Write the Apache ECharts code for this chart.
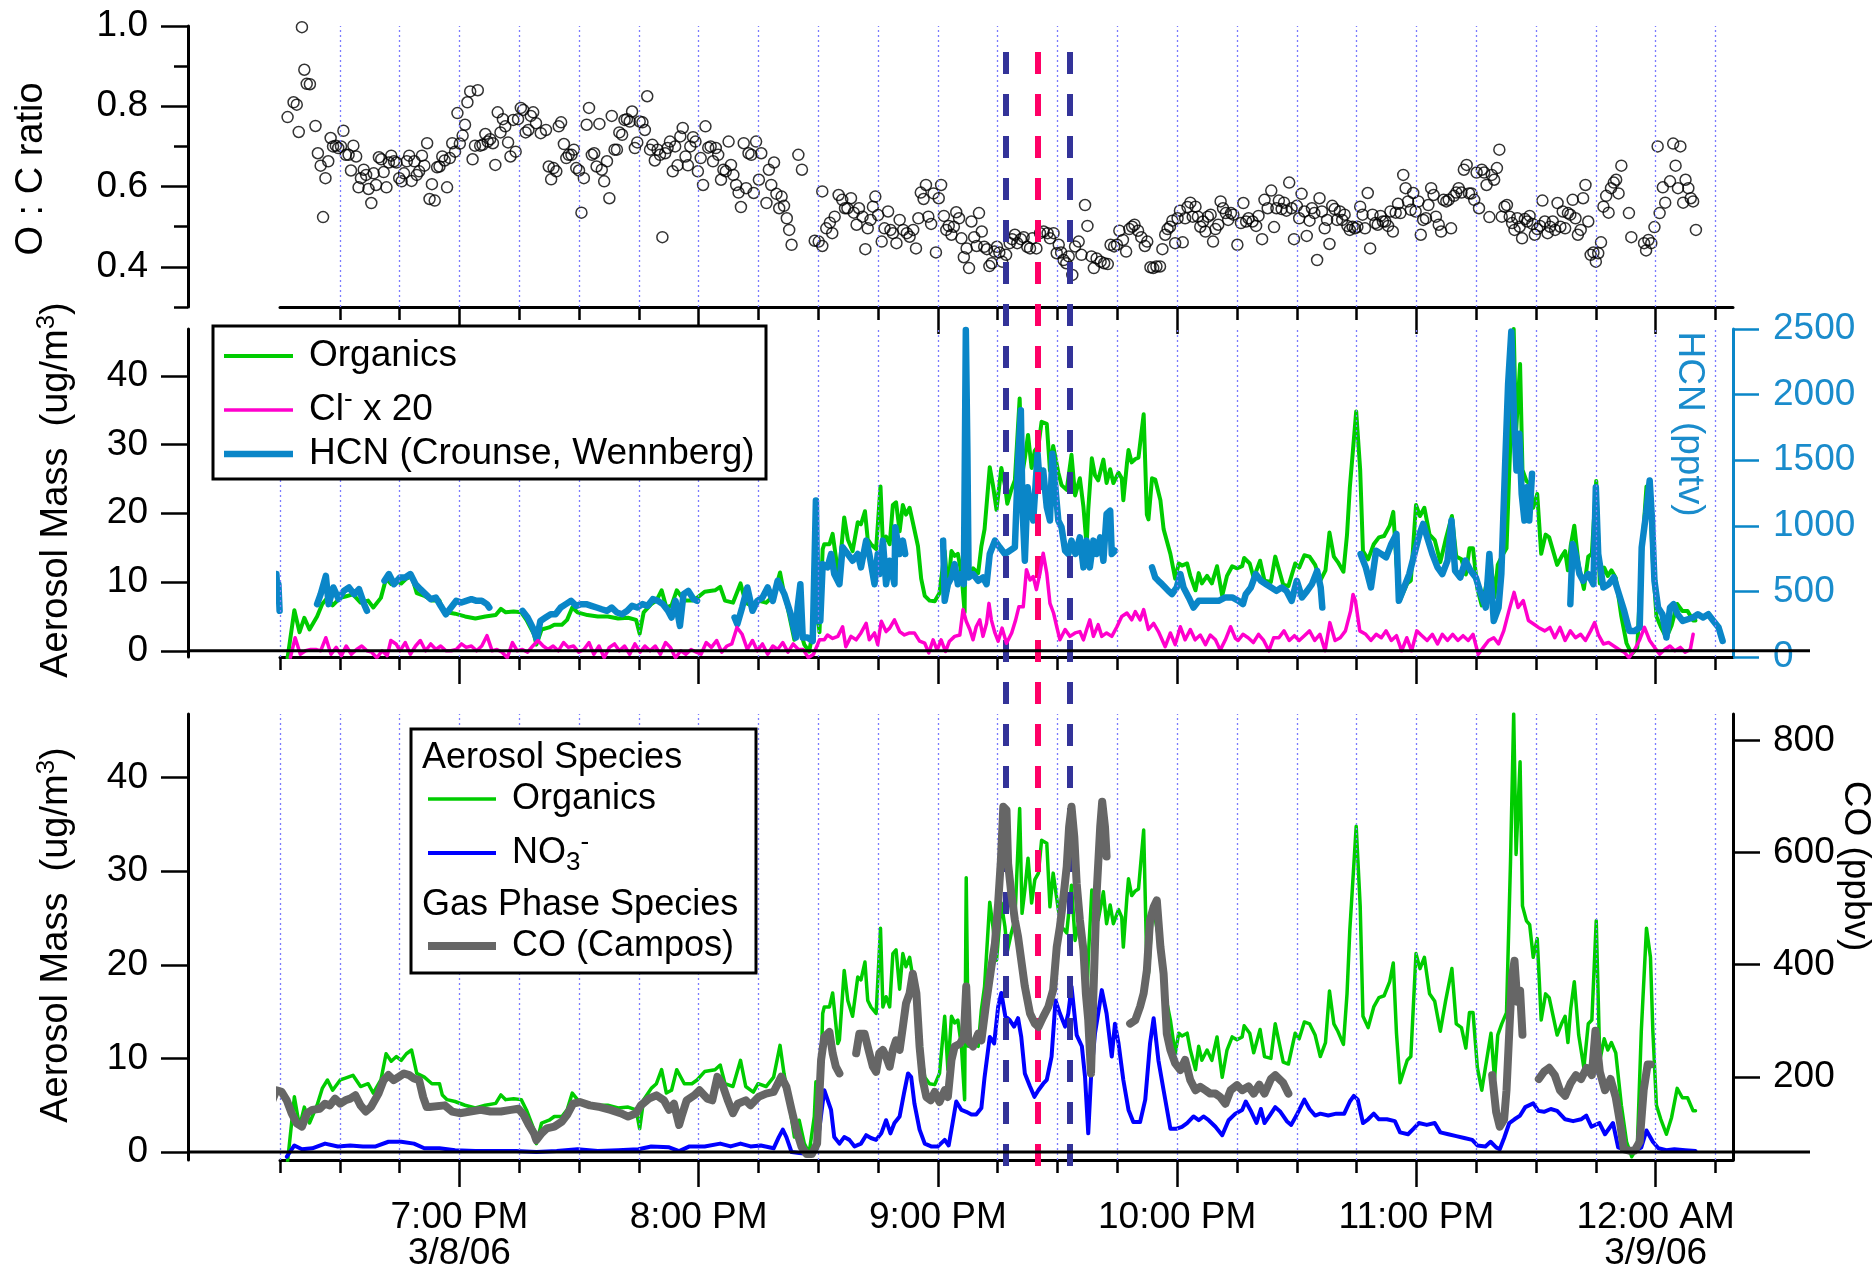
<!DOCTYPE html>
<html>
<head>
<meta charset="utf-8">
<title>O:C ratio, aerosol mass, HCN and CO - 3/8/06</title>
<script src="https://cdn.jsdelivr.net/npm/echarts@6/dist/echarts.min.js"></script>
<style>
html, body { margin: 0; padding: 0; background: #fff; }
#chart { width: 1876px; height: 1277px; }
</style>
</head>
<body>
<div id="chart"></div>
<script>
// x values are minutes after 6:00 PM on 3/8/06
const quarterTicks = [15, 30, 45, 60, 75, 90, 105, 120, 135, 150, 165, 180, 195, 210, 225, 240, 255, 270, 285, 300, 315, 330, 345, 360, 375];
const hourTicks = [60, 120, 180, 240, 300, 360];
const hourLabels = ['7:00 PM\n3/8/06', '8:00 PM', '9:00 PM', '10:00 PM', '11:00 PM', '12:00 AM\n3/9/06'];
const markerTimes = [197, 205, 213];
const ocMajorTicks = [0.4, 0.6, 0.8, 1.0];
const ocMinorTicks = [0.3, 0.5, 0.7, 0.9];
const massTicks = [0, 10, 20, 30, 40];
const hcnTicks = [0, 500, 1000, 1500, 2000, 2500];
const coTicks = [200, 400, 600, 800];

const ocRatio = [[16.9,0.773],[18.4,0.810],[19.2,0.804],[19.7,0.736],[20.5,0.997],[21.1,0.891],[21.7,0.856],[22.5,0.855],[23.9,0.751],[24.5,0.683],[25.2,0.652],[25.8,0.524],[26.4,0.621],[27.1,0.663],[27.7,0.721],[28.3,0.700],[29.0,0.702],[29.6,0.696],[30.3,0.700],[30.9,0.739],[31.5,0.679],[32.2,0.679],[32.8,0.640],[33.4,0.702],[34.1,0.675],[34.7,0.598],[35.3,0.621],[36.0,0.642],[36.6,0.629],[37.2,0.594],[37.9,0.559],[38.5,0.633],[39.1,0.604],[39.8,0.673],[40.4,0.668],[41.0,0.636],[41.7,0.598],[42.3,0.660],[42.9,0.677],[43.6,0.663],[44.2,0.660],[44.9,0.621],[45.5,0.613],[46.1,0.633],[46.8,0.663],[47.4,0.677],[48.0,0.614],[48.7,0.663],[49.3,0.629],[49.9,0.638],[50.6,0.677],[51.2,0.652],[51.9,0.708],[52.5,0.569],[53.1,0.606],[53.8,0.565],[54.4,0.648],[55.0,0.650],[55.7,0.675],[56.3,0.665],[56.9,0.598],[57.6,0.671],[58.2,0.708],[58.9,0.687],[59.5,0.783],[60.1,0.707],[60.8,0.727],[61.4,0.754],[62.0,0.810],[62.7,0.837],[63.3,0.668],[63.9,0.702],[64.6,0.840],[65.2,0.702],[65.8,0.704],[66.5,0.731],[67.1,0.712],[67.7,0.718],[68.4,0.708],[69.0,0.654],[69.6,0.785],[70.3,0.735],[70.9,0.768],[71.5,0.750],[72.2,0.710],[72.8,0.675],[73.5,0.766],[74.1,0.687],[74.7,0.768],[75.4,0.796],[76.0,0.791],[76.6,0.735],[77.3,0.741],[77.9,0.776],[78.5,0.785],[79.2,0.758],[80.4,0.733],[81.7,0.741],[82.4,0.650],[83.0,0.618],[83.6,0.646],[84.3,0.638],[84.9,0.750],[85.5,0.760],[86.2,0.706],[86.8,0.671],[87.4,0.679],[88.1,0.679],[88.7,0.692],[89.3,0.646],[90.0,0.640],[90.6,0.535],[91.2,0.621],[91.9,0.754],[92.5,0.796],[93.2,0.679],[93.8,0.683],[94.4,0.650],[95.1,0.756],[95.7,0.642],[96.3,0.613],[97.0,0.663],[97.6,0.571],[98.2,0.776],[98.9,0.692],[99.5,0.692],[100.1,0.735],[100.8,0.729],[101.4,0.766],[102.0,0.768],[102.7,0.762],[103.3,0.787],[104.0,0.696],[104.6,0.710],[105.2,0.762],[105.9,0.760],[106.5,0.741],[107.1,0.825],[107.8,0.692],[108.4,0.704],[109.0,0.665],[109.7,0.692],[110.3,0.679],[110.9,0.474],[111.6,0.683],[112.2,0.696],[112.8,0.712],[113.5,0.638],[114.1,0.700],[114.7,0.653],[115.4,0.725],[116.0,0.746],[116.7,0.675],[117.3,0.653],[117.9,0.700],[118.6,0.723],[119.2,0.712],[119.8,0.638],[120.5,0.671],[121.1,0.604],[121.7,0.750],[122.4,0.697],[123.0,0.700],[123.6,0.663],[124.3,0.696],[124.9,0.679],[125.6,0.617],[126.2,0.642],[126.8,0.638],[127.5,0.712],[128.1,0.654],[128.7,0.629],[129.4,0.604],[130.0,0.585],[130.6,0.549],[131.3,0.708],[131.9,0.596],[132.5,0.683],[133.2,0.679],[133.8,0.584],[134.4,0.712],[135.1,0.617],[135.7,0.683],[137.0,0.559],[137.6,0.642],[138.2,0.604],[138.9,0.660],[139.5,0.582],[140.2,0.546],[140.8,0.575],[141.4,0.552],[142.1,0.521],[142.7,0.492],[143.3,0.455],[145.0,0.679],[145.9,0.642],[149.1,0.465],[150.1,0.463],[151.0,0.452],[151.0,0.588],[152.0,0.496],[152.9,0.510],[153.5,0.484],[154.1,0.525],[155.1,0.579],[156.0,0.567],[156.7,0.546],[157.3,0.546],[158.2,0.571],[158.9,0.535],[159.6,0.505],[160.2,0.546],[161.1,0.525],[161.8,0.444],[162.4,0.496],[163.1,0.517],[163.7,0.550],[164.3,0.575],[165.0,0.529],[165.9,0.463],[166.6,0.496],[167.5,0.538],[168.1,0.492],[168.7,0.484],[169.6,0.459],[170.4,0.517],[171.3,0.492],[172.2,0.484],[172.9,0.475],[173.8,0.492],[174.5,0.446],[175.1,0.521],[175.7,0.585],[176.4,0.569],[177.0,0.604],[177.6,0.525],[178.3,0.507],[178.9,0.583],[179.5,0.436],[180.2,0.571],[180.8,0.604],[181.5,0.527],[182.1,0.492],[182.7,0.502],[183.4,0.480],[184.0,0.500],[184.6,0.536],[185.3,0.521],[185.9,0.471],[186.5,0.424],[187.2,0.446],[187.8,0.397],[188.4,0.513],[189.1,0.474],[189.7,0.452],[190.3,0.534],[191.0,0.488],[191.6,0.450],[192.3,0.444],[192.9,0.402],[193.5,0.409],[194.2,0.438],[194.8,0.450],[195.4,0.436],[196.1,0.413],[197.1,0.430],[198.0,0.459],[198.6,0.469],[199.3,0.480],[199.9,0.459],[200.8,0.469],[201.5,0.474],[202.4,0.450],[203.1,0.446],[203.7,0.471],[204.7,0.446],[205.6,0.484],[206.5,0.488],[207.5,0.484],[208.1,0.471],[209.0,0.484],[209.8,0.434],
  [210.3,0.455],[210.9,0.436],[211.5,0.417],[212.2,0.409],[212.8,0.426],[213.7,0.380],[214.4,0.451],[215.3,0.463],[216.0,0.430],[216.9,0.554],[217.5,0.502],[218.5,0.426],[219.1,0.397],[219.8,0.421],[220.8,0.413],[221.7,0.409],[222.6,0.407],[223.3,0.455],[224.2,0.451],[224.9,0.455],[225.5,0.490],[226.4,0.467],[227.2,0.438],[228.0,0.494],[228.7,0.500],[229.3,0.505],[230.2,0.490],[231.0,0.474],[231.9,0.452],[232.5,0.463],[233.3,0.399],[234.0,0.397],[234.8,0.401],[235.7,0.401],[236.3,0.444],[237.0,0.480],[237.6,0.494],[238.2,0.500],[238.8,0.515],[239.5,0.459],[240.1,0.521],[240.7,0.540],[241.4,0.461],[242.0,0.521],[242.6,0.549],[243.3,0.560],[243.9,0.525],[244.6,0.550],[245.2,0.525],[245.8,0.500],[246.5,0.513],[247.1,0.488],[247.7,0.525],[248.4,0.530],[249.0,0.463],[249.6,0.494],[250.3,0.505],[250.9,0.563],[251.5,0.546],[252.2,0.534],[252.8,0.517],[253.5,0.534],[254.1,0.530],[255.1,0.455],[256.0,0.509],[256.6,0.559],[257.3,0.513],[257.9,0.521],[258.9,0.513],[259.8,0.502],[260.4,0.527],[261.3,0.469],[261.9,0.567],[262.7,0.546],[263.6,0.590],[264.3,0.499],[264.9,0.546],[265.5,0.565],[266.2,0.544],[266.8,0.560],[267.4,0.540],[268.1,0.610],[268.7,0.546],[269.3,0.469],[270.0,0.552],[270.6,0.521],[271.2,0.582],[271.9,0.538],[272.5,0.477],[273.2,0.515],[273.8,0.546],[274.4,0.534],[275.1,0.417],[275.7,0.571],[276.3,0.538],[277.0,0.496],[277.6,0.517],[278.2,0.457],[278.9,0.552],[279.5,0.544],[280.1,0.517],[280.8,0.538],[281.4,0.517],[282.0,0.530],[282.7,0.502],[283.3,0.492],[284.0,0.500],[284.6,0.496],[285.2,0.500],[285.9,0.550],[286.5,0.530],[287.1,0.496],[287.8,0.584],[288.4,0.446],[289.0,0.530],[289.7,0.509],[290.3,0.505],[291.0,0.527],[291.6,0.513],[292.2,0.513],[292.9,0.502],[293.5,0.538],[294.1,0.488],[294.8,0.535],[295.4,0.557],[296.0,0.534],[296.7,0.629],[297.3,0.596],[297.9,0.563],[298.6,0.542],[299.2,0.584],[299.8,0.538],[300.5,0.563],[301.1,0.480],[301.7,0.517],[302.4,0.521],[303.0,0.554],[303.7,0.596],[304.3,0.579],[304.9,0.525],[305.6,0.505],[306.2,0.488],[306.8,0.567],[307.5,0.563],[308.1,0.567],[308.7,0.496],[309.4,0.577],[310.0,0.585],[310.6,0.596],[311.3,0.585],[311.9,0.642],[312.6,0.654],[313.2,0.583],[313.8,0.583],[314.5,0.567],[315.1,0.635],[315.7,0.546],[316.4,0.642],[317.0,0.635],[317.6,0.604],[318.3,0.524],[318.9,0.629],[319.5,0.617],[320.2,0.646],[320.8,0.692],[321.4,0.525],[322.1,0.550],[322.7,0.554],[323.4,0.525],[324.0,0.509],[324.6,0.492],[325.3,0.521],[325.9,0.500],[326.5,0.471],[327.2,0.519],[327.8,0.513],[328.4,0.527],[329.1,0.507],[329.7,0.480],[330.3,0.494],[331.0,0.502],[331.6,0.565],[332.2,0.513],[332.9,0.484],[333.5,0.500],[334.2,0.513],[334.8,0.492],[335.4,0.559],[336.1,0.500],[336.7,0.538],[337.3,0.496],[338.0,0.534],[338.6,0.530],[339.2,0.567],[339.9,0.521],[340.5,0.480],[341.2,0.492],[341.8,0.571],[342.4,0.604],[343.1,0.513],[343.7,0.430],[344.4,0.436],[345.0,0.413],[345.6,0.434],[346.3,0.461],[346.9,0.550],[347.6,0.577],[348.2,0.535],[348.8,0.596],[349.5,0.610],[350.1,0.617],[350.7,0.583],[351.4,0.652],[353.3,0.534],[353.9,0.474],[357.1,0.459],[357.6,0.441],[358.2,0.467],[358.9,0.459],[359.7,0.499],[360.5,0.700],[361.0,0.534],[361.8,0.598],[362.4,0.560],[363.6,0.613],[364.4,0.707],[365.0,0.652],[365.6,0.596],[366.2,0.700],[366.9,0.560],[367.5,0.617],[368.2,0.596],[368.8,0.571],[369.4,0.563],[370.1,0.492]];

// ug/m3
const organics = [[16.9,-1.0],[18.6,5.9],[19.9,2.7],[21.1,4.8],[22.4,3.1],[24.3,5.0],[25.6,6.8],[26.9,7.7],[28.2,6.6],[30.1,7.7],[31.4,7.9],[33.3,8.2],[35.2,7.0],[37.1,7.3],[38.4,6.3],[40.3,7.7],[41.6,10.5],[42.9,9.7],[44.2,10.2],[45.4,9.8],[46.7,10.5],[48.0,10.9],[49.3,8.4],[51.2,8.0],[53.1,7.3],[55.0,7.3],[55.7,6.1],[56.9,5.6],[58.9,5.4],[61.4,5.0],[64.0,4.7],[66.5,5.0],[69.1,5.2],[70.4,6.1],[71.6,5.6],[73.6,5.7],[75.5,5.6],[76.8,4.5],[78.7,2.4],[79.3,0.9],[80.6,3.1],[82.5,3.4],[83.8,3.8],[85.7,3.8],[87.0,4.5],[88.3,6.3],[89.6,5.6],[92.1,5.2],[94.7,5.0],[97.2,5.0],[99.8,4.7],[102.3,4.8],[104.3,4.5],[105.2,2.5],[106.2,5.6],[108.1,6.8],[109.4,7.3],[110.7,8.8],[111.9,6.3],[113.2,6.6],[114.5,8.8],[116.4,7.3],[118.3,7.3],[119.6,7.7],[121.5,8.6],[124.1,8.8],[125.4,9.3],[126.6,7.3],[128.6,7.0],[130.5,9.8],[131.8,7.0],[133.7,6.4],[134.9,7.3],[136.9,7.0],[138.8,8.0],[140.4,11.4],[141.4,8.4],[142.3,6.3],[144.0,1.6],[145.2,3.4],[146.5,0.9],[147.7,-0.1],[149.0,3.8],[149.4,7.5],[150.3,2.7],[151.1,14.8],[151.5,15.5],[152.8,15.5],[153.6,17.0],[154.9,11.6],[155.3,12.0],[156.5,19.4],[157.4,16.2],[158.6,14.5],[159.9,18.7],[160.7,18.4],[161.7,20.3],[162.4,16.2],[163.2,15.5],[164.5,14.8],[165.6,23.9],[166.2,15.5],[167.0,16.6],[167.9,15.5],[168.7,21.2],[169.5,21.6],[170.4,17.4],[171.2,21.2],[172.0,19.8],[172.9,20.8],[173.7,18.7],[175.0,15.2],[175.8,10.5],[176.7,8.0],[177.9,7.3],[179.2,7.2],[180.4,8.4],[181.7,14.5],[182.5,8.8],[183.4,14.5],[184.2,13.8],[185.0,14.1],[185.9,11.3],[186.7,5.6],[187.1,29.3],[187.6,11.3],[188.8,12.0],[190.1,11.3],[190.9,15.2],[191.7,17.7],[193.0,26.7],[193.8,24.1],[194.7,20.5],[195.9,26.6],[196.8,24.1],[197.4,21.4],[198.4,23.4],[199.3,24.8],[200.5,36.7],[201.1,25.5],[201.8,28.0],[202.6,31.4],[203.5,26.6],[204.3,29.1],[205.2,29.8],[206.0,33.3],[207.3,33.0],[208.1,26.2],[208.9,29.8],[210.2,25.9],[211.0,24.1],[212.3,23.4],[213.5,28.5],[214.4,22.6],[215.6,25.1],[216.5,20.9],[217.3,15.2],[217.7,20.5],[218.6,28.0],[219.4,25.5],[220.2,24.8],[221.5,27.8],[222.3,24.4],[223.2,26.4],[224.0,24.4],[225.3,25.9],[226.1,25.1],[226.5,21.9],[227.4,27.2],[227.8,29.2],[228.6,27.4],[229.5,27.9],[230.3,28.1],[231.6,34.4],[232.4,19.8],[232.8,19.1],[233.7,25.1],[234.5,24.9],[235.8,21.9],[236.6,17.7],[238.3,14.1],[239.5,10.5],[240.4,12.7],[241.2,12.4],[242.5,12.7],[243.3,10.9],[244.6,8.8],[245.4,11.3],[246.2,9.8],[247.5,10.9],[248.7,9.8],[250.0,12.3],[251.3,8.0],[252.5,10.9],[253.8,12.3],[255.0,12.0],[256.3,12.3],[256.8,13.5],[258.2,12.7],[259.2,10.6],[260.8,13.1],[261.9,10.2],[263.5,10.0],[264.6,13.7],[266.6,9.6],[267.9,9.4],[269.6,12.7],[270.6,12.1],[271.9,13.9],[273.2,13.7],[274.6,12.5],[275.9,10.2],[277.2,11.7],[278.2,17.2],[279.3,13.7],[280.3,12.9],[281.7,11.5],[282.6,16.9],[283.3,23.7],[284.9,34.8],[285.9,26.3],[286.6,14.5],[287.9,13.3],[289.3,15.5],[290.6,16.5],[291.9,16.7],[293.3,18.2],[294.2,20.2],[295.0,12.7],[295.9,7.4],[297.7,9.8],[298.6,10.2],[299.9,21.2],[300.9,19.6],[302.0,20.8],[303.3,16.9],[304.6,16.1],[306.0,12.9],[307.3,16.1],[308.9,19.6],[310.0,13.7],[311.3,13.3],[312.4,11.1],[313.3,14.9],[314.2,14.9],[315.3,9.0],[316.4,6.6],[317.3,9.0],[318.7,12.7],[319.6,7.8],[320.4,12.5],[321.4,13.7],[322.6,14.9],[323.6,31.0],[324.4,46.8],[325.0,31.8],[326.0,41.7],[326.6,26.3],[327.6,24.7],[328.4,24.3],[329.3,20.8],[330.3,22.8],[331.3,14.1],[332.4,16.9],[333.3,16.5],[334.3,14.5],[335.3,12.5],[336.4,13.7],[337.3,14.5],[338.0,11.7],[338.7,15.3],[339.6,18.2],[340.7,12.5],[342.0,9.0],[343.1,13.7],[344.0,14.1],[345.1,24.7],[346.0,9.8],[347.1,12.1],[348.0,10.9],[348.9,11.7],[350.0,10.6],[351.4,5.0],[352.7,1.1],[354.0,-0.5],[355.4,0.5],[356.4,12.9],[357.7,23.9],[358.7,20.8],[359.3,12.9],[360.2,5.0],[361.3,3.5],[362.7,1.9],[364.0,3.7],[365.4,6.8],[366.7,5.8],[368.0,5.8],[369.4,4.4],[370.0,4.4]];

// chloride already multiplied by 20, ug/m3
const chlorideX20 = [[17.6,-1.0],[18.8,1.9],[20.1,-0.5],[21.4,0.0],[22.7,0.2],[24.0,0.2],[25.2,0.0],[26.5,1.9],[27.8,-0.5],[29.1,0.5],[30.4,-0.7],[31.6,0.7],[32.9,-0.5],[34.2,0.2],[35.5,0.7],[36.8,0.0],[38.0,-0.2],[39.3,-1.0],[40.6,0.0],[41.9,-0.7],[42.8,1.5],[44.1,1.0],[45.1,0.0],[46.4,1.2],[47.7,-0.5],[49.0,0.7],[50.2,1.5],[51.5,0.0],[52.8,1.0],[54.1,0.2],[55.3,0.7],[56.6,0.0],[57.9,0.0],[59.2,0.2],[60.5,1.0],[61.7,0.5],[63.0,0.7],[64.3,0.0],[65.6,0.7],[66.9,2.2],[68.2,0.0],[69.4,0.2],[70.7,-0.2],[72.0,-1.0],[73.3,1.2],[74.5,0.0],[75.8,0.2],[77.1,-0.2],[78.4,0.7],[79.7,1.5],[81.0,0.7],[82.2,0.2],[83.5,0.7],[84.8,0.0],[86.1,1.2],[87.3,0.5],[88.6,0.7],[89.9,-0.2],[91.2,0.2],[92.5,1.2],[93.7,-0.5],[95.0,0.7],[96.3,-1.0],[97.6,0.5],[98.9,1.0],[100.1,0.0],[101.4,0.7],[102.7,-0.5],[104.0,1.0],[105.3,-0.2],[106.5,0.7],[107.8,0.0],[109.1,0.7],[110.4,-0.5],[111.7,1.2],[112.9,0.5],[114.2,-1.0],[115.5,0.0],[116.8,-0.5],[118.1,0.2],[119.4,-0.2],[120.6,-0.5],[121.9,1.2],[123.2,0.5],[124.5,1.5],[125.8,-0.2],[127.1,0.7],[128.3,1.0],[129.6,3.4],[130.9,2.4],[132.2,0.2],[133.5,1.5],[134.7,0.0],[136.0,1.0],[137.3,-0.5],[138.6,0.7],[139.8,0.2],[141.1,1.2],[142.4,-0.2],[143.7,1.0],[145.0,0.2],[146.2,0.2],[147.5,-1.0],[148.8,-0.5],[150.3,1.6],[151.5,1.6],[152.3,2.3],[153.6,1.8],[154.9,2.1],[156.1,3.5],[156.9,0.6],[158.2,2.1],[159.5,1.6],[160.7,2.6],[162.0,4.0],[162.8,1.6],[164.1,2.6],[164.9,0.9],[165.8,4.3],[167.0,2.8],[167.9,3.3],[169.1,4.5],[170.4,2.8],[171.6,2.3],[172.9,2.6],[174.1,2.6],[175.4,1.4],[176.7,1.1],[177.7,-0.3],[178.8,1.6],[179.8,0.1],[180.8,1.6],[181.9,-0.1],[182.9,1.4],[184.2,2.1],[185.5,2.3],[186.3,6.0],[187.1,4.3],[188.0,3.1],[188.8,1.6],[189.6,3.5],[190.5,4.5],[191.3,2.1],[192.2,4.0],[192.8,6.9],[193.4,4.5],[194.3,2.6],[195.1,1.4],[196.1,3.3],[197.2,1.1],[198.5,2.6],[199.5,4.5],[200.3,6.4],[201.4,6.4],[202.2,11.8],[203.1,10.3],[203.9,10.8],[204.7,8.9],[205.6,11.3],[206.4,14.2],[207.3,11.3],[208.1,6.9],[209.0,5.5],[209.8,3.5],[210.6,1.6],[211.9,3.1],[213.1,2.1],[214.4,2.6],[215.6,2.8],[216.5,1.6],[217.3,3.1],[218.1,4.5],[219.0,2.1],[220.2,3.8],[221.1,2.1],[222.3,2.6],[223.6,2.1],[224.9,3.5],[226.1,5.0],[227.4,5.5],[228.6,4.5],[229.5,5.7],[230.7,4.5],[231.6,6.0],[232.8,3.1],[234.1,4.0],[235.3,2.8],[237.0,0.6],[238.3,2.6],[239.5,0.9],[240.8,3.5],[242.0,1.6],[243.3,3.1],[244.5,1.6],[245.8,2.3],[247.1,0.9],[248.3,2.3],[249.6,1.6],[250.8,0.1],[252.1,1.6],[253.4,3.5],[254.6,1.8],[255.3,1.5],[256.5,2.4],[257.8,1.9],[259.1,1.2],[260.4,2.4],[261.7,1.5],[263.0,0.0],[264.2,1.9],[265.5,1.9],[266.8,2.9],[268.1,1.5],[269.4,2.2],[270.6,1.5],[271.9,2.2],[273.2,2.9],[274.5,1.5],[275.8,2.4],[277.1,0.0],[278.3,4.1],[279.6,1.5],[280.9,1.9],[282.2,2.9],[283.5,5.8],[284.1,8.2],[284.7,7.3],[285.8,2.9],[287.3,2.4],[288.6,1.5],[289.9,2.4],[291.2,1.9],[292.4,2.9],[293.7,1.5],[295.0,2.2],[296.3,0.0],[297.6,1.9],[298.8,0.0],[300.1,2.9],[301.4,2.2],[302.7,1.5],[304.0,2.4],[305.3,1.0],[306.5,2.4],[307.8,1.5],[309.1,2.4],[310.4,1.5],[311.7,2.2],[313.0,1.5],[314.2,2.4],[315.5,-0.5],[316.8,0.5],[318.1,1.5],[319.4,1.9],[320.6,1.0],[321.9,2.9],[323.2,5.8],[324.5,8.5],[325.5,6.3],[326.8,7.3],[328.1,4.4],[329.4,3.9],[330.6,3.4],[332.2,2.9],[333.5,3.4],[334.7,1.9],[336.0,3.4],[337.3,1.5],[338.6,2.9],[339.9,1.9],[341.2,2.4],[342.4,1.5],[343.7,2.9],[344.7,4.1],[345.6,2.4],[346.9,1.0],[348.2,1.2],[349.5,0.7],[350.8,0.2],[352.1,-0.2],[353.3,-1.0],[354.6,0.0],[355.9,1.5],[357.2,3.4],[358.5,1.5],[359.7,0.5],[361.0,-0.5],[362.3,0.2],[363.6,0.7],[364.8,0.0],[366.2,0.5],[367.4,-0.2],[368.7,0.2],[369.4,2.4]];

// pptv, null = no data
const hcn = [[14.1,632],[14.4,454],[14.6,555],[14.9,352],[19,null],[24.3,403],[25.2,479],[26.5,619],[27.2,403],[28.4,530],[29.7,441],[31.0,504],[32.3,530],[33.6,479],[34.8,517],[36.1,403],[36.8,352],[39,null],[41.2,581],[42.3,632],[43.6,555],[45.1,606],[46.4,606],[47.7,632],[49.0,555],[50.2,517],[51.5,479],[52.8,441],[54.1,453],[55.3,390],[56.6,326],[57.9,377],[59.2,428],[60.5,415],[61.7,428],[63.0,441],[64.3,428],[65.6,428],[66.9,403],[67.5,377],[71,null],[75.8,352],[77.1,301],[78.4,224],[79.4,135],[80.3,275],[81.6,301],[82.9,326],[84.1,326],[85.4,377],[86.7,403],[88.0,428],[89.3,390],[90.5,403],[91.8,403],[93.1,390],[94.4,377],[95.7,364],[97.0,352],[98.2,377],[99.5,339],[100.8,326],[102.1,352],[103.3,390],[104.6,377],[105.9,403],[107.2,390],[108.5,441],[109.8,428],[111.0,403],[112.3,352],[113.2,301],[114.2,428],[115.3,237],[116.2,479],[117.4,504],[118.7,441],[119.6,428],[124,null],[129.0,301],[129.7,250],[130.9,377],[132.2,530],[133.5,352],[134.7,428],[136.0,454],[137.3,530],[138.6,428],[139.8,581],[141.5,479],[143.1,326],[144.4,148],[144.8,377],[145.5,555],[146.1,148],[147.3,148],[148.6,122],[149.4,1192],[149.8,275],[150.5,275],[151.1,708],[152.3,683],[153.2,785],[154.0,632],[155.3,555],[156.1,836],[157.4,785],[158.6,734],[159.9,785],[160.7,683],[162.0,887],[162.8,785],[164.1,555],[164.9,785],[165.3,632],[166.2,887],[167.0,555],[167.9,734],[169.1,555],[169.3,989],[170.4,785],[171.2,887],[171.8,785],[176,null],[181.3,887],[181.7,428],[182.5,555],[183.4,606],[184.2,708],[185.0,555],[185.9,632],[186.5,555],[187.0,2492],[187.4,1549],[187.7,606],[188.8,632],[190.1,581],[191.3,606],[192.2,555],[193.0,785],[194.3,887],[195.5,836],[196.8,785],[198.0,810],[199.3,836],[200.1,1498],[200.8,1880],[201.2,1141],[201.8,734],[202.5,1294],[203.1,1141],[203.9,1040],[205.0,1549],[205.6,1294],[206.4,1422],[207.3,1141],[208.1,1040],[208.7,1549],[209.3,1345],[210.2,1040],[211.0,989],[211.9,810],[212.7,785],[213.5,887],[214.5,785],[215.6,912],[216.5,683],[217.3,887],[218.1,683],[219.0,887],[219.8,785],[220.7,912],[221.5,734],[222.3,1091],[223.2,1116],[223.6,785],[224.4,810],[229,null],[233.7,683],[234.5,606],[235.3,581],[236.2,555],[237.0,530],[237.8,504],[238.7,479],[239.9,530],[240.8,632],[241.6,530],[242.9,454],[244.1,377],[245.4,428],[247.1,428],[248.7,428],[250.4,428],[252.1,454],[253.8,454],[255.4,428],[256.5,403],[257.2,479],[258.5,530],[259.7,632],[261.0,581],[262.3,555],[263.6,530],[264.9,504],[266.2,530],[267.4,504],[268.7,428],[270.0,581],[271.3,454],[272.6,504],[273.8,555],[275.1,657],[276.0,530],[276.4,377],[281,null],[286.0,785],[287.3,683],[288.6,530],[289.9,810],[291.2,785],[292.4,759],[293.7,861],[295.0,938],[295.6,428],[296.9,530],[298.2,632],[299.5,785],[300.8,938],[301.7,1014],[302.7,912],[304.0,785],[305.3,683],[306.5,632],[307.8,734],[308.8,1040],[309.7,657],[311.0,606],[312.3,734],[313.6,657],[314.9,606],[316.2,479],[317.4,377],[318.3,785],[319.4,275],[320.6,377],[321.3,632],[322.2,1422],[323.0,2084],[323.8,2480],[324.5,1804],[325.1,1422],[325.8,1702],[326.4,1243],[327.1,1040],[327.7,1294],[328.3,1040],[329.0,1396],[334,null],[338.6,403],[339.2,861],[339.9,785],[340.9,632],[341.8,581],[343.1,632],[344.4,555],[345.0,1294],[345.6,785],[346.9,530],[348.2,555],[349.5,606],[350.8,479],[352.1,352],[353.4,199],[354.7,199],[356.0,224],[356.5,836],[357.6,1091],[358.5,1345],[359.1,1040],[359.7,581],[360.6,377],[361.7,326],[362.7,148],[363.6,377],[364.5,403],[365.5,326],[366.8,275],[368.1,288],[369.4,301],[370.6,326],[371.9,301],[373.2,326],[374.5,275],[375.8,224],[376.8,122]];

// ug/m3
const nitrate = [[16.7,-0.5],[18.6,0.7],[20.5,0.3],[23.1,0.4],[26.3,0.9],[29.5,0.6],[32.6,0.7],[35.8,0.6],[39.0,0.6],[42.2,1.1],[45.4,1.1],[48.6,0.9],[51.2,0.4],[55.0,0.4],[58.9,0.2],[64.0,0.1],[69.1,0.1],[74.2,0.1],[79.3,0.0],[84.4,0.1],[89.6,0.3],[94.7,0.1],[99.8,0.2],[104.9,0.3],[108.1,0.6],[112.6,0.5],[115.1,0.1],[117.7,0.6],[121.5,0.6],[125.4,0.9],[128.0,0.6],[130.5,0.9],[133.0,0.6],[135.6,0.7],[138.8,0.4],[140.1,1.6],[141.1,2.4],[142.0,1.6],[143.3,0.0],[145.2,-0.1],[147.8,-0.2],[149.7,0.6],[151.5,6.6],[153.2,4.5],[154.0,1.6],[155.3,0.9],[156.5,1.6],[157.8,1.3],[159.1,0.6],[160.7,0.9],[162.0,1.8],[163.2,1.5],[164.5,1.3],[165.8,2.0],[167.0,3.4],[168.1,2.0],[169.1,3.1],[170.4,3.8],[171.5,6.3],[172.5,8.4],[173.3,8.0],[174.1,5.2],[175.4,2.4],[176.7,0.9],[178.3,0.6],[180.0,0.6],[181.7,1.3],[182.7,0.7],[183.8,3.4],[184.6,5.4],[185.9,4.5],[187.1,4.3],[188.4,4.0],[189.6,4.0],[190.9,4.7],[191.7,8.0],[193.0,12.3],[194.1,11.6],[195.1,15.5],[195.9,17.0],[196.9,14.5],[198.0,14.1],[199.1,13.4],[200.1,14.3],[200.9,12.3],[201.8,8.4],[203.1,7.0],[204.2,5.9],[205.2,6.6],[206.4,7.3],[207.3,7.7],[208.5,10.2],[209.5,16.2],[210.6,14.8],[211.9,13.4],[212.7,14.8],[213.5,17.7],[214.8,12.5],[216.1,11.3],[216.9,8.0],[217.7,2.0],[218.4,8.0],[219.4,12.7],[220.2,14.8],[221.1,17.3],[222.3,14.8],[223.6,10.2],[224.4,13.7],[225.3,11.6],[226.5,7.7],[227.8,4.5],[229.0,3.2],[230.7,3.2],[232.0,5.6],[233.2,11.6],[234.1,14.3],[235.3,9.8],[236.6,6.6],[238.3,2.5],[239.9,2.5],[241.2,2.7],[242.5,3.1],[244.1,3.8],[245.4,3.4],[246.6,3.8],[247.9,3.4],[249.6,2.7],[251.3,1.8],[252.9,3.4],[254.6,4.1],[256.3,4.5],[257.2,5.4],[258.6,4.3],[259.9,3.1],[261.0,4.6],[261.9,3.1],[263.2,3.9],[264.6,4.8],[265.9,4.3],[267.5,3.3],[268.6,2.9],[269.9,3.9],[271.9,5.6],[273.2,4.6],[274.6,3.9],[275.9,4.1],[277.9,3.9],[279.9,4.1],[281.9,4.1],[283.3,5.4],[284.3,6.0],[285.3,5.6],[286.6,3.1],[287.9,3.5],[289.3,4.1],[290.6,3.5],[292.6,3.5],[294.6,3.3],[295.9,2.1],[297.9,1.9],[299.3,2.5],[300.6,3.1],[302.6,2.9],[304.6,3.1],[306.0,2.1],[308.0,1.9],[310.0,1.7],[312.0,1.5],[314.0,1.3],[315.3,0.7],[317.3,0.6],[318.6,1.1],[320.0,0.5],[320.9,0.3],[322.0,1.5],[323.3,3.1],[324.6,3.5],[326.0,3.9],[327.3,4.8],[329.3,5.2],[330.6,4.4],[332.0,4.3],[333.7,4.6],[335.3,4.4],[337.3,3.5],[339.3,3.3],[341.3,3.5],[342.6,3.9],[343.9,2.7],[345.9,3.1],[347.3,1.9],[349.3,3.1],[350.6,0.5],[352.6,0.2],[354.6,0.1],[356.4,0.5],[357.7,2.3],[359.3,1.1],[360.7,0.4],[362.7,0.2],[364.7,0.3],[367.4,0.2],[370.0,0.1]];

// ppbv, null = no data
const co = [[13.1,158],[14.1,176],[15.4,173],[16.7,158],[17.9,135],[19.2,117],[20.5,111],[21.8,135],[23.1,141],[25.0,143],[26.3,152],[27.5,149],[28.8,161],[30.1,152],[31.4,158],[32.6,161],[33.9,167],[35.2,149],[36.5,138],[37.8,146],[39.7,170],[41.0,194],[42.2,203],[43.5,194],[44.8,200],[46.1,206],[47.4,203],[48.6,197],[49.9,194],[50.9,164],[51.8,146],[52.5,146],[56.3,149],[58.2,138],[60.1,135],[62.7,138],[65.3,141],[67.8,138],[70.4,138],[72.9,141],[74.8,143],[76.1,132],[77.4,114],[78.7,99],[79.3,87],[80.6,99],[81.9,108],[83.8,111],[85.7,120],[87.0,132],[88.5,152],[90.2,155],[92.7,149],[95.3,146],[97.9,141],[100.4,135],[102.3,129],[104.3,135],[105.5,149],[107.5,161],[109.4,167],[111.3,158],[112.6,141],[113.8,152],[115.1,114],[115.7,129],[117.0,158],[118.9,167],[120.2,176],[122.2,161],[123.4,158],[124.7,200],[126.0,185],[127.3,158],[128.6,135],[129.8,152],[131.8,158],[133.0,149],[135.0,164],[136.9,170],[138.8,173],[140.7,200],[142.0,182],[143.3,141],[144.5,105],[145.8,75],[147.1,62],[148.4,62],[149.7,81],[150.7,230],[151.5,271],[152.8,280],[153.6,242],[154.4,218],[155.3,206],[157.4,null],[159.5,242],[160.3,277],[161.6,277],[162.6,248],[163.7,218],[164.5,209],[165.3,242],[166.2,248],[167.0,236],[167.9,218],[168.7,248],[169.5,265],[170.4,248],[171.2,289],[172.0,331],[172.9,349],[173.7,384],[174.6,349],[175.4,254],[176.2,194],[177.1,164],[178.2,158],[179.2,173],[180.4,155],[181.7,176],[182.5,164],[183.4,230],[184.2,254],[185.5,259],[186.5,271],[187.1,361],[187.6,265],[188.8,254],[190.1,277],[190.9,265],[192.2,337],[193.4,396],[194.3,438],[195.1,509],[195.8,587],[196.4,682],[197.2,676],[197.6,581],[198.4,527],[199.3,480],[200.1,450],[200.9,408],[201.8,361],[203.1,313],[204.3,295],[205.2,289],[206.4,307],[207.7,325],[208.9,355],[209.8,432],[210.6,468],[211.4,515],[212.3,575],[212.9,646],[213.5,682],[214.2,628],[214.8,545],[215.6,480],[216.5,426],[217.1,349],[217.7,301],[218.4,206],[219.0,349],[219.8,527],[220.7,646],[221.2,691],[221.9,646],[222.3,593],[225,null],[228.2,295],[229.5,301],[230.7,325],[231.6,349],[232.4,390],[233.2,480],[234.1,503],[234.9,515],[235.8,432],[236.6,384],[237.4,277],[238.3,248],[239.5,224],[240.8,212],[242.0,230],[243.3,194],[244.6,176],[245.8,182],[247.1,176],[248.3,170],[249.6,170],[250.8,164],[252.1,152],[253.4,176],[255.0,185],[256.3,176],[257.9,183],[259.2,170],[260.6,186],[261.9,170],[263.5,196],[264.6,203],[266.6,189],[267.9,170],[290,null],[319.0,203],[320.0,137],[320.9,111],[322.0,124],[322.6,176],[323.3,282],[324.0,380],[324.6,407],[325.3,334],[326.0,354],[326.6,275],[328.5,null],[330.7,196],[332.0,209],[333.3,216],[334.7,203],[336.0,176],[337.3,166],[338.7,189],[340.0,203],[341.3,196],[342.7,216],[344.0,203],[344.9,282],[346.0,209],[347.3,176],[348.7,196],[350.0,163],[351.1,117],[352.0,71],[353.4,68],[354.7,68],[356.0,84],[357.0,176],[358.0,222],[358.7,222]];

const FONT = 'Liberation Sans, Arial, Helvetica, sans-serif';
const X_MIN = 15, X_MAX = 379.4;
const GRID_LEFT = 280, GRID_RIGHT = 143;
const AXIS_X = 188;                 // left value axes sit here
const Y_OFFSET = GRID_LEFT - AXIS_X;
const HCN_COLOR = '#0a86c8';

const chart = echarts.init(document.getElementById('chart'), null, { renderer: 'canvas' });

function timeAxes(grid, quarters, withLabels) {
  const base = { type: 'value', gridIndex: grid, min: X_MIN, max: X_MAX, position: 'bottom', splitLine: { show: false } };
  return [
    Object.assign({}, base, {
      axisLine: { show: true, onZero: false, lineStyle: { color: '#000', width: 3 } },
      axisTick: { show: true, customValues: quarters, length: 13, lineStyle: { color: '#000', width: 2.5 } },
      axisLabel: { show: false }
    }),
    Object.assign({}, base, {
      axisLine: { show: false, onZero: false },
      axisTick: { show: true, customValues: hourTicks, length: 27, lineStyle: { color: '#000', width: 2.5 } },
      axisLabel: withLabels ? {
        show: true, customValues: hourTicks, margin: 40, fontSize: 37, lineHeight: 36,
        color: '#000', fontFamily: FONT,
        formatter: v => hourLabels[hourTicks.indexOf(v)]
      } : { show: false }
    })
  ];
}

function valueAxis(grid, min, max, ticks, opts) {
  return Object.assign({
    type: 'value', gridIndex: grid, min: min, max: max, position: 'left', offset: Y_OFFSET,
    splitLine: { show: false },
    axisLine: { show: true, onZero: false, lineStyle: { color: '#000', width: 3 } },
    axisTick: { show: true, customValues: ticks, length: 27, lineStyle: { color: '#000', width: 2.5 } },
    axisLabel: { show: true, customValues: ticks, margin: 40, fontSize: 37, color: '#000', fontFamily: FONT, formatter: v => String(v) }
  }, opts || {});
}

function line(data, x, y, color, width, z) {
  return {
    type: 'line', data: data, xAxisIndex: x, yAxisIndex: y, showSymbol: false, symbol: 'none',
    connectNulls: false, silent: true, z: z,
    lineStyle: { color: color, width: width, join: 'round', cap: 'round' }, itemStyle: { color: color }
  };
}

function gridLines(x, y, values) {
  return {
    type: 'line', data: [], xAxisIndex: x, yAxisIndex: y, silent: true, z: 1,
    markLine: {
      silent: true, symbol: 'none', label: { show: false }, animation: false,
      lineStyle: { color: '#7b7bff', width: 1.3, type: [2, 3] },
      data: values.map(v => ({ xAxis: v }))
    }
  };
}

const markerColors = ['#333399', '#ff0066', '#333399'];

const option = {
  animation: false,
  backgroundColor: '#fff',
  textStyle: { fontFamily: FONT },
  grid: [
    { left: GRID_LEFT, right: GRID_RIGHT, top: 26, height: 281 },
    { left: GRID_LEFT, right: GRID_RIGHT, top: 329, height: 328 },
    { left: GRID_LEFT, right: GRID_RIGHT, top: 714, height: 446 },
    { left: GRID_LEFT, right: GRID_RIGHT, top: 32, height: 1134 }
  ],
  xAxis: [].concat(
    timeAxes(0, quarterTicks.slice(1), false),
    timeAxes(1, quarterTicks, false),
    timeAxes(2, quarterTicks, true),
    [{ type: 'value', gridIndex: 3, min: X_MIN, max: X_MAX, show: false }]
  ),
  yAxis: [
    valueAxis(0, 0.3, 1.0, ocMinorTicks, {
      axisTick: { show: true, customValues: ocMinorTicks, length: 14, lineStyle: { color: '#000', width: 2.5 } },
      axisLabel: { show: false }
    }),
    valueAxis(0, 0.3, 1.0, ocMajorTicks, {
      axisLine: { show: false, onZero: false },
      axisLabel: { show: true, customValues: ocMajorTicks, margin: 40, fontSize: 37, color: '#000', fontFamily: FONT, formatter: v => v.toFixed(1) }
    }),
    valueAxis(1, -0.9, 46.8, massTicks),
    valueAxis(1, 0, 2500, hcnTicks, {
      position: 'right', offset: 0,
      axisLine: { show: true, onZero: false, lineStyle: { color: HCN_COLOR, width: 3 } },
      axisTick: { show: true, customValues: hcnTicks, length: 26, lineStyle: { color: HCN_COLOR, width: 2.5 } },
      axisLabel: { show: true, customValues: hcnTicks, margin: 40, fontSize: 37, color: '#1a8ccc', fontFamily: FONT, formatter: v => String(v) }
    }),
    valueAxis(2, -0.85, 46.8, massTicks),
    valueAxis(2, 51.5, 847.5, coTicks, { position: 'right', offset: 0 }),
    { type: 'value', gridIndex: 3, min: 0, max: 1, show: false }
  ],
  series: [
    gridLines(0, 0, quarterTicks.slice(1)),
    gridLines(2, 2, quarterTicks),
    gridLines(4, 4, quarterTicks),
    {
      type: 'line', data: [], xAxisIndex: 6, yAxisIndex: 6, silent: true, z: 2,
      markLine: {
        silent: true, symbol: 'none', label: { show: false }, animation: false,
        data: markerTimes.map((v, i) => ({ xAxis: v, lineStyle: { color: markerColors[i], width: 6, type: [22, 20] } }))
      }
    },
    {
      type: 'scatter', data: ocRatio, xAxisIndex: 0, yAxisIndex: 0, symbol: 'circle', symbolSize: 11,
      silent: true, z: 3,
      itemStyle: { color: 'rgba(0,0,0,0)', borderColor: '#000', borderWidth: 1.5 }
    },
    line(organics, 2, 2, '#00cc00', 4, 3),
    line(hcn, 2, 3, HCN_COLOR, 6.5, 4),
    line(chlorideX20, 2, 2, '#ff00cc', 3.5, 5),
    line(organics, 4, 4, '#00cc00', 3.5, 3),
    line(nitrate, 4, 4, '#0000ff', 4, 4),
    line(co, 4, 5, '#666666', 8, 5)
  ]
};

chart.setOption(option);

// zero lines of the two aerosol axes run past the plot on both sides
const zeroMid = chart.convertToPixel({ yAxisIndex: 2 }, 0);
const zeroBot = chart.convertToPixel({ yAxisIndex: 4 }, 0);

const txt = (x, y, text, extra) => ({
  type: 'text', x: x, y: y, z: 20,
  style: Object.assign({ text: text, fontSize: 36, fontFamily: FONT, fill: '#000', align: 'left', verticalAlign: 'middle',
    rich: {
      sup: { fontSize: 26, fontFamily: FONT, padding: [0, 0, 20, 0] },
      sub: { fontSize: 26, fontFamily: FONT, padding: [20, 0, 0, 0] }
    } }, extra || {})
});
const seg = (x1, y1, x2, y2, color, width) => ({
  type: 'line', z: 20, shape: { x1: x1, y1: y1, x2: x2, y2: y2 }, style: { stroke: color, lineWidth: width }
});

chart.setOption({
  graphic: [
    seg(AXIS_X, zeroMid, 1810, zeroMid, '#000', 3),
    seg(AXIS_X, zeroBot, 1810, zeroBot, '#000', 3),
    // axis titles
    Object.assign(txt(32, 169, 'O : C ratio', { align: 'center', fontSize: 38 }), { rotation: Math.PI / 2 }),
    Object.assign(txt(57, 490, 'Aerosol Mass  (ug/m{sup|3})', { align: 'center', fontSize: 38 }), { rotation: Math.PI / 2 }),
    Object.assign(txt(57, 935, 'Aerosol Mass  (ug/m{sup|3})', { align: 'center', fontSize: 38 }), { rotation: Math.PI / 2 }),
    Object.assign(txt(1689, 424, 'HCN (pptv)', { align: 'center', fontSize: 37, fill: '#1a8ccc' }), { rotation: -Math.PI / 2 }),
    Object.assign(txt(1855, 866, 'CO (ppbv)', { align: 'center', fontSize: 37 }), { rotation: -Math.PI / 2 }),
    // middle legend
    { type: 'rect', z: 19, shape: { x: 213, y: 326, width: 553, height: 153 }, style: { fill: '#fff', stroke: '#000', lineWidth: 3 } },
    seg(224, 356, 293, 356, '#00cc00', 4),
    txt(309, 356, 'Organics', { fontSize: 37 }),
    seg(224, 410, 293, 410, '#ff00cc', 3.5),
    txt(309, 410, 'Cl{sup|-} x 20', { fontSize: 37 }),
    seg(224, 454, 293, 454, HCN_COLOR, 6.5),
    txt(309, 454, 'HCN (Crounse, Wennberg)', { fontSize: 37 }),
    // bottom legend
    { type: 'rect', z: 19, shape: { x: 411, y: 729, width: 345, height: 244 }, style: { fill: '#fff', stroke: '#000', lineWidth: 3 } },
    txt(422, 758, 'Aerosol Species'),
    seg(428, 799, 496, 799, '#00cc00', 3.5),
    txt(512, 799, 'Organics'),
    seg(428, 853, 496, 853, '#0000ff', 4),
    txt(512, 853, 'NO{sub|3}{sup|-}'),
    txt(422, 905, 'Gas Phase Species'),
    seg(428, 946, 496, 946, '#666666', 8),
    txt(512, 946, 'CO (Campos)')
  ]
});
</script>
</body>
</html>
